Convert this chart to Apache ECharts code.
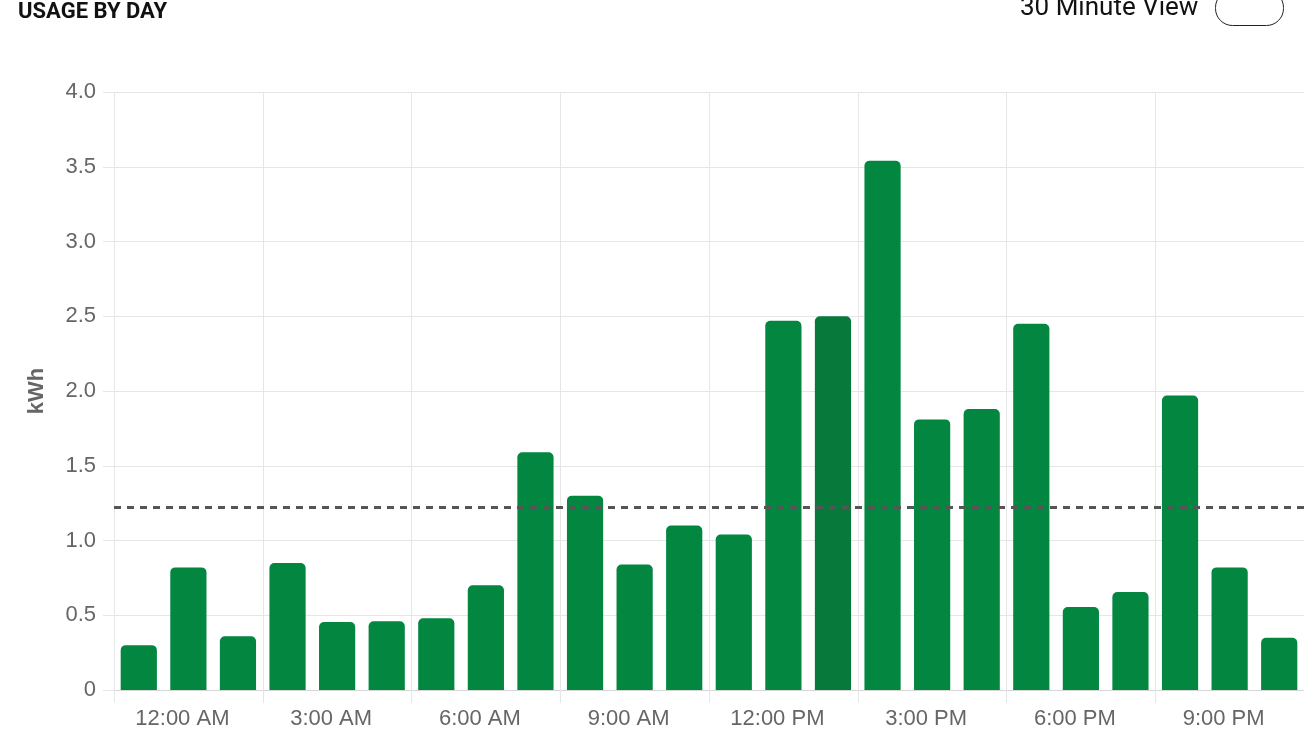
<!DOCTYPE html>
<html>
<head>
<meta charset="utf-8">
<style>
  html, body { margin: 0; padding: 0; background: #fff; }
  #chart { width: 1304px; height: 749px; }
</style>
<script src="https://cdn.jsdelivr.net/npm/echarts@6/dist/echarts.min.js"></script>
</head>
<body>
<div id="chart"></div>
<script>
// hourly buckets
const hours = [
  "12 AM", "1 AM", "2 AM", "3 AM", "4 AM", "5 AM", "6 AM", "7 AM",
  "8 AM", "9 AM", "10 AM", "11 AM", "12 PM", "1 PM", "2 PM", "3 PM",
  "4 PM", "5 PM", "6 PM", "7 PM", "8 PM", "9 PM", "10 PM", "11 PM"
];
// kWh per hour
const usage = [
  0.30, 0.82, 0.36, 0.85, 0.455, 0.46, 0.48, 0.70,
  1.59, 1.30, 0.84, 1.10, 1.04, 2.47, 2.50, 3.54,
  1.81, 1.88, 2.45, 0.555, 0.655, 1.97, 0.82, 0.35
];
// the highlighted (hovered) bar
const activeIndex = 14;
// x tick labels, one per 3 hours
const tickLabels = [
  "12:00 AM", "3:00 AM", "6:00 AM", "9:00 AM",
  "12:00 PM", "3:00 PM", "6:00 PM", "9:00 PM"
];
const yTicks = [0, 0.5, 1, 1.5, 2, 2.5, 3, 3.5, 4];

const GREEN = "#028640";
const GREEN_DARK = "#077a3b";
const GRID = "#e6e6e6";
const LABEL_FONT = "'Liberation Sans', Arial, sans-serif";

const chart = echarts.init(document.getElementById("chart"));

const option = {
  animation: false,
  textStyle: { fontFamily: LABEL_FONT },
  grid: { left: 114, right: 0, top: 92, bottom: 59, containLabel: false },
  graphic: [
    {
      type: "text", left: 18, top: 1,
      style: { text: "USAGE BY DAY", font: "bold 22px Roboto", fill: "#111" }
    },
    {
      type: "text", left: 1020, top: -5,
      style: { text: "30 Minute View", font: "26px Roboto", fill: "#111" }
    },
    {
      type: "rect", left: 1215, top: -10,
      shape: { width: 68, height: 35, r: 17 },
      style: { fill: "#fff", stroke: "#222", lineWidth: 1 }
    }
  ],
  xAxis: [
    {
      type: "category",
      data: hours,
      axisLine: { lineStyle: { color: "#d6d6d6" } },
      axisTick: { show: false },
      axisLabel: { show: false },
      splitLine: { show: false }
    },
    {
      type: "category",
      data: tickLabels,
      position: "bottom",
      axisLine: { show: false },
      axisTick: { show: true, length: 13, lineStyle: { color: GRID } },
      axisLabel: {
        color: "#666", fontSize: 22, margin: 18,
        padding: [0, 12, 0, 0]
      },
      splitLine: { show: true, lineStyle: { color: GRID, width: 1 } }
    }
  ],
  yAxis: {
    type: "value",
    min: 0,
    max: yTicks[yTicks.length - 1],
    interval: 0.5,
    name: "kWh",
    nameLocation: "middle",
    nameGap: 66,
    nameTextStyle: { color: "#666", fontSize: 22, fontWeight: "bold" },
    axisLine: { show: false },
    axisTick: { show: true, length: 11, lineStyle: { color: GRID } },
    axisLabel: {
      color: "#666", fontSize: 22, margin: 18,
      formatter: v => (v === 0 ? "0" : v.toFixed(1))
    },
    splitLine: { lineStyle: { color: GRID, width: 1 } }
  },
  series: [
    {
      type: "bar",
      xAxisIndex: 0,
      barCategoryGap: "27%",
      data: usage.map((v, i) => ({
        value: v,
        itemStyle: { color: i === activeIndex ? GREEN_DARK : GREEN }
      })),
      itemStyle: { borderRadius: [5, 5, 0, 0] },
      markLine: {
        silent: true,
        symbol: "none",
        label: { show: false },
        lineStyle: { color: "#555", type: [7, 6], width: 3 },
        data: [{ type: "average" }]
      }
    }
  ]
};

chart.setOption(option);
</script>
</body>
</html>
